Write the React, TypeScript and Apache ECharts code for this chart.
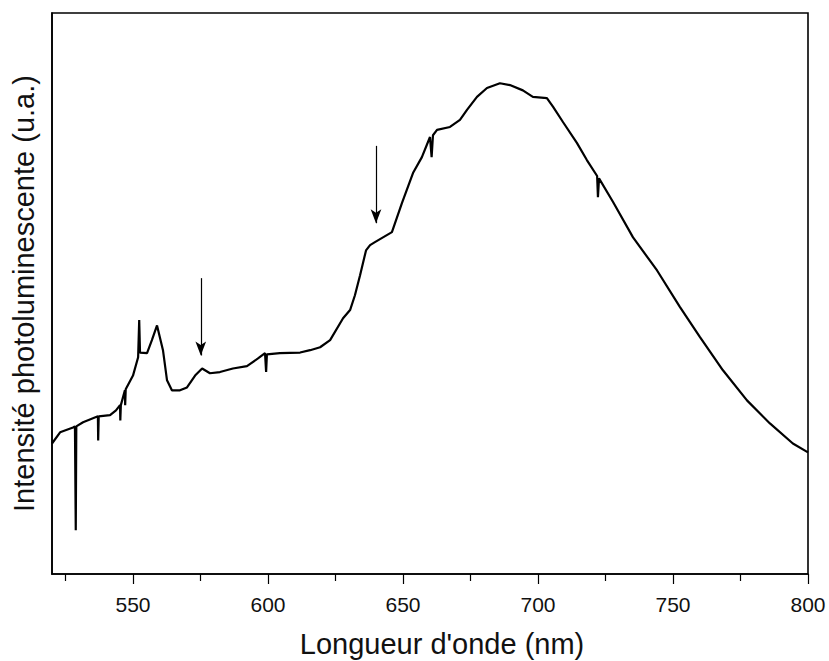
import React, { useEffect, useRef } from "react";
import * as echarts from "echarts";

// Wavelength (nm)
const wavelengths = [
  520.0, 523.0, 527.8, 528.5, 528.8, 529.0, 531.5, 537.0, 537.1, 537.3,
  541.5, 543.7, 545.2, 545.3, 545.5, 547.0, 547.1, 547.3, 550.0, 551.9,
  552.3, 552.6, 555.2, 557.0, 558.9, 561.1, 562.6, 564.4, 567.4, 570.0,
  573.0, 575.6, 578.5, 582.2, 587.0, 592.2, 596.3, 598.9, 599.3, 599.6,
  604.4, 611.9, 615.6, 619.3, 623.0, 627.8, 630.4, 632.2, 634.1, 636.3,
  637.8, 639.6, 645.9, 649.6, 653.7, 657.0, 660.0, 660.6, 661.1, 662.6,
  667.4, 671.1, 673.7, 677.4, 681.1, 685.9, 689.6, 694.4, 698.1, 703.3,
  705.6, 709.3, 714.4, 718.1, 721.9, 722.2, 722.6, 727.8, 735.2, 744.1,
  752.6, 760.0, 768.5, 777.4, 785.9, 794.4, 800.0,
];

// Photoluminescence intensity (arbitrary units)
const intensity = [
  27.1, 29.0, 29.8, 30.0, 12.4, 30.0, 30.7, 31.7, 27.6, 31.7,
  31.9, 32.7, 33.6, 31.0, 33.6, 36.1, 33.6, 36.3, 38.6, 41.7,
  48.0, 42.5, 42.4, 44.6, 47.1, 42.9, 37.8, 36.1, 36.1, 36.6,
  38.6, 39.8, 39.0, 39.2, 39.8, 40.2, 41.5, 42.4, 39.2, 42.2,
  42.4, 42.5, 42.9, 43.4, 44.6, 48.3, 49.7, 52.2, 55.6, 59.8,
  60.7, 61.2, 62.9, 67.8, 72.9, 75.6, 79.0, 75.6, 79.3, 80.2,
  80.7, 81.9, 83.6, 85.8, 87.3, 88.1, 87.8, 86.9, 85.8, 85.6,
  84.1, 81.5, 78.0, 75.1, 72.4, 68.8, 72.0, 68.0, 62.0, 56.4,
  50.2, 45.1, 39.5, 34.4, 30.5, 27.1, 25.6,
];

const majorTicks = [550, 600, 650, 700, 750, 800];
const minorTicks = [525, 575, 625, 675, 725, 775];

// Arrow annotations: wavelength, start intensity, tip intensity
const arrowX = [575.1, 640.0];
const arrowTop = [55.1, 77.5];
const arrowEnd = [42.0, 64.4];

export default function App() {
  const ref = useRef<HTMLDivElement>(null);

  useEffect(() => {
    document.body.style.margin = "0";
    if (!ref.current) return;
    const chart = echarts.init(ref.current, null, { renderer: "svg" });
    const data = wavelengths.map((w, i) => [w, intensity[i]]);
    const arrows = arrowX.map((x, i) => [
      { coord: [x, arrowTop[i]] },
      { coord: [x, arrowEnd[i]] },
    ]);
    const font = "Liberation Sans, Arial, sans-serif";
    chart.setOption({
      animation: false,
      backgroundColor: "#fff",
      grid: {
        left: 52,
        right: 21,
        top: 13,
        bottom: 87,
        containLabel: false,
        outerBoundsMode: "none",
        show: true,
        borderColor: "#000",
        borderWidth: 1.6,
        backgroundColor: "transparent",
      },
      xAxis: [
        {
          type: "value",
          min: 520,
          max: 800,
          name: "Longueur d'onde (nm)",
          nameLocation: "middle",
          nameGap: 55,
          nameTextStyle: {
            fontFamily: font,
            fontSize: 29,
            color: "#111",
            padding: [0, 0, 0, 24],
          },
          axisLine: { show: true, lineStyle: { color: "#000", width: 1.6 } },
          axisTick: {
            show: true,
            inside: false,
            length: 10,
            customValues: majorTicks,
            lineStyle: { color: "#000", width: 1.2 },
          },
          axisLabel: {
            customValues: majorTicks,
            fontFamily: font,
            fontSize: 21,
            color: "#111",
            margin: 20,
          },
          splitLine: { show: false },
        },
        {
          type: "value",
          min: 520,
          max: 800,
          position: "bottom",
          axisLine: { show: false },
          axisTick: {
            show: true,
            inside: false,
            length: 7,
            customValues: minorTicks,
            lineStyle: { color: "#000", width: 1.2 },
          },
          axisLabel: { show: false },
          splitLine: { show: false },
        },
      ],
      yAxis: {
        type: "value",
        min: 5,
        max: 100,
        name: "Intensité photoluminescente (u.a.)",
        nameLocation: "middle",
        nameGap: 14,
        nameTextStyle: { fontFamily: font, fontSize: 29, color: "#111" },
        axisLine: { show: true, lineStyle: { color: "#000", width: 1.6 } },
        axisTick: { show: false },
        axisLabel: { show: false },
        splitLine: { show: false },
      },
      series: [
        {
          type: "line",
          data,
          showSymbol: false,
          symbol: "none",
          lineStyle: { color: "#000", width: 2.2 },
          markLine: {
            silent: true,
            symbol: ["none", "arrow"],
            symbolSize: [8, 14],
            label: { show: false },
            lineStyle: { color: "#000", width: 1.2, type: "solid" },
            data: arrows,
          },
        },
      ],
    });
    return () => chart.dispose();
  }, []);

  return <div ref={ref} style={{ width: 829, height: 661 }} />;
}
